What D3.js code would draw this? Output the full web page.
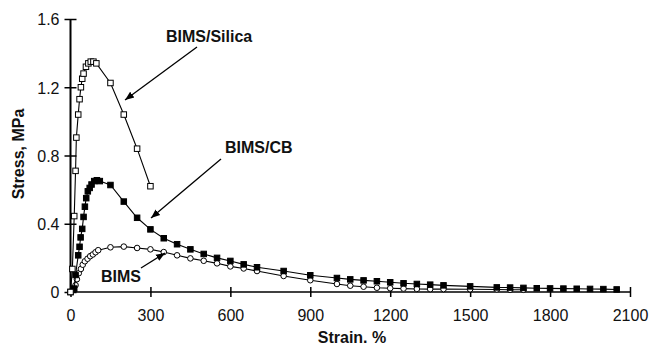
<!DOCTYPE html>
<html><head><meta charset="utf-8">
<script src="https://cdn.jsdelivr.net/npm/d3@7"></script>
<style>html,body{margin:0;padding:0;background:#fff;} svg{display:block;}</style>
</head><body>
<svg id="chart" width="650" height="349"></svg>
<script>
const xTicks = [0,300,600,900,1200,1500,1800,2100];
const xTickLabels = ["0","300","600","900","1200","1500","1800","2100"];
const yTicks = [0,0.4,0.8,1.2,1.6];
const yTickLabels = ["0","0.4","0.8","1.2","1.6"];

const silicaX = [0,7,14,19,22,29,34,39,44,49,58,67,76,86,97,150,200,250,300];
const silicaY = [0,0.135,0.445,0.71,0.905,1.04,1.13,1.20,1.25,1.28,1.32,1.34,1.35,1.35,1.34,1.225,1.04,0.84,0.62];

const cbX = [0,14,19,29,34,38,44,49,54,59,65,72,79,89,99,110,150,200,250,300,350,400,450,500,550,600,650,700,800,900,1000,1050,1100,1150,1200,1250,1300,1350,1400,1500,1600,1650,1700,1750,1800,1850,1900,1950,2000,2050];
const cbY = [0,0.02,0.10,0.215,0.265,0.32,0.37,0.44,0.50,0.55,0.59,0.61,0.63,0.65,0.655,0.65,0.627,0.53,0.435,0.367,0.315,0.28,0.25,0.223,0.20,0.182,0.162,0.145,0.123,0.098,0.082,0.074,0.068,0.063,0.057,0.051,0.047,0.043,0.039,0.033,0.027,0.026,0.024,0.022,0.021,0.020,0.019,0.018,0.017,0.015];

const bimsX = [0,10,19,24,31,39,46,54,64,74,84,94,104,150,200,250,300,350,400,450,500,550,600,650,700,800,900,1000,1050,1100,1150,1200,1250,1300,1350,1400,1500,1600,1650,1700];
const bimsY = [0,0.02,0.04,0.075,0.11,0.135,0.16,0.18,0.195,0.21,0.22,0.233,0.245,0.262,0.266,0.258,0.25,0.234,0.215,0.197,0.183,0.168,0.15,0.138,0.123,0.094,0.069,0.047,0.037,0.031,0.025,0.022,0.02,0.018,0.017,0.017,0.016,0.015,0.013,0.013];

const svg = d3.select("#chart");
const L = 70.5, R = 630, T = 19, B = 292;
const x = d3.scaleLinear().domain([0,2100]).range([L,R]);
const y = d3.scaleLinear().domain([0,1.6]).range([B,T]);
const font = "'Liberation Sans', Arial, Helvetica, sans-serif";

// axes
const xAxis = d3.axisBottom(x).tickValues(xTicks).tickFormat((d,i)=>xTickLabels[i]).tickSize(0).tickPadding(0);
const gx = svg.append("g").attr("transform",`translate(0,${B})`).call(xAxis);
gx.select(".domain").remove();
gx.selectAll(".tick text").attr("dy",null).attr("y",29).style("font-family",font).style("font-size","16px").attr("fill","#111");
gx.selectAll(".tick").append("line").attr("y1",-5).attr("y2",5).attr("stroke","#000").attr("stroke-width",1.5);
svg.append("line").attr("x1",L).attr("x2",R).attr("y1",B).attr("y2",B).attr("stroke","#000").attr("stroke-width",1.6);

const yAxis = d3.axisLeft(y).tickValues(yTicks).tickFormat((d,i)=>yTickLabels[i]).tickSize(0).tickPadding(0);
const gy = svg.append("g").attr("transform",`translate(${L},0)`).call(yAxis);
gy.select(".domain").remove();
gy.selectAll(".tick text").attr("x",-11).attr("dy","0.36em").style("font-family",font).style("font-size","16px").attr("fill","#111");
gy.selectAll(".tick").append("line").attr("x1",-6).attr("x2",6).attr("stroke","#000").attr("stroke-width",1.5);
svg.append("line").attr("x1",L).attr("x2",L).attr("y1",B).attr("y2",T).attr("stroke","#000").attr("stroke-width",2);

// titles
svg.append("text").attr("x",352).attr("y",343).attr("text-anchor","middle")
  .style("font-family",font).style("font-size","16px").style("font-weight","bold").attr("fill","#111").text("Strain. %");
svg.append("text").attr("transform","translate(24,154) rotate(-90)").attr("text-anchor","middle")
  .style("font-family",font).style("font-size","16px").style("font-weight","bold").attr("fill","#111").text("Stress, MPa");

// series
const line = d3.line().x(d=>x(d[0])).y(d=>y(d[1]));
function series(xs, ys, shape){
  const data = xs.map((v,i)=>[v,ys[i]]);
  svg.append("path").datum(data).attr("d",line).attr("fill","none").attr("stroke","#000").attr("stroke-width",1.1);
  const g = svg.append("g");
  data.forEach(d=>{
    if(shape==="circle"){
      g.append("circle").attr("cx",x(d[0])).attr("cy",y(d[1])).attr("r",2.8).attr("fill","#fff").attr("stroke","#000").attr("stroke-width",1);
    } else {
      const s = 5.5;
      g.append("rect").attr("x",x(d[0])-s/2).attr("y",y(d[1])-s/2).attr("width",s).attr("height",s)
        .attr("fill",shape==="filled"?"#000":"#fff").attr("stroke","#000").attr("stroke-width",1);
    }
  });
}
series(bimsX,bimsY,"circle");
series(cbX,cbY,"filled");
series(silicaX,silicaY,"open");

// annotations
const defs = svg.append("defs");
defs.append("marker").attr("id","ah").attr("viewBox","0 0 10 10").attr("refX",10).attr("refY",5)
  .attr("markerWidth",9).attr("markerHeight",9).attr("markerUnits","userSpaceOnUse").attr("orient","auto")
  .append("path").attr("d","M0,1 L10,5 L0,9 Z").attr("fill","#000");
function note(text, tx, ty, x1, y1, x2, y2){
  svg.append("text").attr("x",tx).attr("y",ty).style("font-family",font).style("font-size","16px")
    .style("font-weight","bold").attr("fill","#111").text(text);
  svg.append("line").attr("x1",x1).attr("y1",y1).attr("x2",x2).attr("y2",y2)
    .attr("stroke","#000").attr("stroke-width",1.3).attr("marker-end","url(#ah)");
}
note("BIMS/Silica",166,42,197,47,125,100);
note("BIMS/CB",225,153,221,159,151,218);
note("BIMS",101,282,141,268,165,253);
</script>
</body></html>
